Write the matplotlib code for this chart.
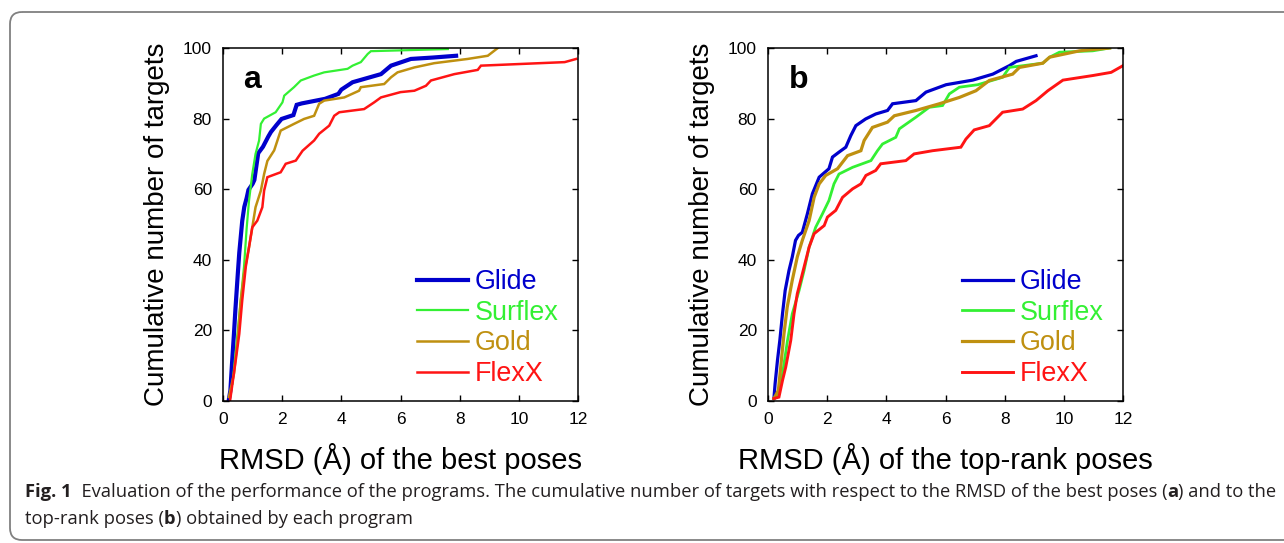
import matplotlib
matplotlib.use("Agg")
import matplotlib.pyplot as plt
from matplotlib.patches import FancyBboxPatch

plt.rcParams['font.family'] = ['Liberation Sans', 'DejaVu Sans']

programs = ["Glide", "Surflex", "Gold", "FlexX"]
colors = ["#0000cc", "#33f033", "#bf9010", "#ff1414"]

# panel a: RMSD of the best poses
glide_a_x = [0.2, 0.25, 0.3, 0.37, 0.42, 0.5, 0.55, 0.65, 0.72, 0.8, 0.86, 1.0, 1.06, 1.19, 1.35, 1.53,
             1.62, 1.81, 1.98, 2.38, 2.49, 2.66, 3.45, 3.9, 4.0, 4.38, 5.34, 5.68, 6.35, 7.1, 7.88]
glide_a_y = [0.5, 3, 10, 19, 26, 36, 42, 51, 55, 57.5, 59.8, 61.5, 62.6, 70.2, 72, 74.9,
             76.2, 78.2, 79.9, 81, 83.9, 84.3, 85.6, 87, 88.2, 90.3, 92.6, 95, 96.9, 97.3, 97.8]
surflex_a_x = [0.32, 0.4, 0.49, 0.6, 0.71, 0.8, 0.88, 0.99, 1.1, 1.22, 1.28, 1.39, 1.78, 2.01, 2.07,
               2.4, 2.63, 3.08, 3.42, 4.21, 4.38, 4.66, 4.89, 5.0, 7.6]
surflex_a_y = [4.9, 11.5, 19, 28.5, 38, 49, 56.8, 64.3, 70, 73.8, 78.5, 80, 81.8, 84.6, 86.5,
               88.9, 90.8, 92.2, 93.1, 94.1, 95, 96, 98.3, 99.1, 99.7]
gold_a_x = [0.2, 0.37, 0.49, 0.6, 0.71, 0.88, 0.99, 1.1, 1.28, 1.39, 1.5, 1.73, 1.84, 1.95, 2.4, 2.74,
            3.08, 3.25, 3.42, 4.1, 4.6, 4.66, 5.45, 5.68, 5.9, 6.47, 7.14, 8.27, 8.95, 9.29]
gold_a_y = [1.1, 7.7, 17, 28.5, 36, 43.6, 49.2, 54.9, 59.6, 64.3, 68, 71, 73.8, 76.6, 78.5, 79.9,
            80.8, 84.2, 85.1, 86, 87.9, 88.9, 89.8, 91.7, 93.1, 94.5, 95.7, 96.9, 97.8, 100]
flexx_a_x = [0.24, 0.32, 0.43, 0.55, 0.65, 0.77, 0.88, 0.99, 1.16, 1.33, 1.39, 1.5, 1.95, 2.12, 2.46,
             2.69, 3.08, 3.25, 3.59, 3.76, 3.93, 4.77, 5.11, 5.34, 6.0, 6.47, 6.86, 7.03, 7.82, 8.61,
             8.72, 11.55, 11.94]
flexx_a_y = [0.2, 4.9, 11.5, 19, 28.5, 38, 43.6, 49.2, 51.1, 54.9, 59.6, 63.4, 64.8, 67.2, 68.1,
             70.9, 73.8, 75.7, 78, 80.8, 81.8, 82.7, 84.6, 86, 87.5, 87.9, 89.3, 90.8, 92.6, 93.8,
             95, 96, 96.9]

# panel b: RMSD of the top-rank poses
glide_b_x = [0.2, 0.24, 0.32, 0.4, 0.49, 0.58, 0.71, 0.82, 0.93, 1.03, 1.16, 1.33, 1.5, 1.73, 2.06,
             2.18, 2.4, 2.63, 2.8, 2.97, 3.3, 3.64, 4.04, 4.21, 5.0, 5.34, 6.02, 6.92, 7.6, 8.16,
             8.39, 9.06]
glide_b_y = [0.7, 4.9, 11.5, 17.2, 24.7, 31.3, 37, 40.8, 45.5, 46.9, 47.8, 53, 58.7, 63.4, 65.8,
             69.1, 70.5, 71.9, 75.2, 78, 79.9, 81.3, 82.3, 84.2, 85.1, 87.5, 89.6, 90.9, 92.6, 95,
             96.2, 97.8]
surflex_b_x = [0.2, 0.37, 0.49, 0.66, 0.82, 1.05, 1.22, 1.39, 1.61, 1.84, 2.06, 2.23, 2.4, 2.86, 3.48,
               3.7, 3.87, 4.32, 4.44, 5.0, 5.45, 5.9, 6.13, 6.47, 7.09, 7.93, 8.16, 9.29, 9.52, 9.85,
               10.98, 11.55]
surflex_b_y = [0.7, 2.1, 7.7, 17.2, 24.7, 31.3, 37, 43.6, 49.2, 53, 56.8, 61.5, 64.3, 66.2, 68.1,
               70.9, 72.8, 74.7, 77.1, 80.4, 83.2, 83.7, 87, 88.9, 89.6, 91.7, 94.5, 95.7, 97.4, 98.8,
               99.2, 100]
gold_b_x = [0.2, 0.35, 0.43, 0.54, 0.65, 0.82, 0.99, 1.16, 1.39, 1.56, 1.73, 1.95, 2.35, 2.69, 3.14,
            3.25, 3.53, 4.04, 4.27, 5.0, 5.79, 6.47, 7.03, 7.48, 8.27, 8.5, 9.29, 9.52, 10.53, 11.55]
gold_b_y = [0.7, 3, 9.6, 19, 26.6, 34.2, 40.8, 45.5, 51.1, 57.7, 61.5, 63.9, 65.8, 69.5, 70.9,
            73.8, 77.5, 79, 80.8, 82.3, 84.2, 86, 87.9, 90.8, 92.6, 94.5, 95.7, 97.4, 99.2, 100]
flexx_b_x = [0.2, 0.37, 0.49, 0.6, 0.77, 0.88, 0.99, 1.16, 1.39, 1.56, 1.9, 2.01, 2.29, 2.52, 2.86,
             3.14, 3.31, 3.64, 3.81, 4.66, 4.94, 5.56, 6.52, 6.69, 6.97, 7.48, 7.93, 8.61, 9.06,
             9.46, 9.97, 10.98, 11.6, 12.0]
flexx_b_y = [0.7, 1.1, 5.8, 9.6, 17.2, 24.7, 30.4, 36, 43.6, 47.4, 49.7, 52.1, 54, 57.7, 60.1,
             61.5, 63.9, 65.3, 67.2, 68.1, 70, 70.9, 71.9, 74.2, 76.8, 78, 81.8, 82.7, 85.1,
             87.9, 90.9, 92.2, 93.1, 95]

xticks = [0, 2, 4, 6, 8, 10, 12]
yticks = [0, 20, 40, 60, 80, 100]

W, H = 1284, 543
fig = plt.figure(figsize=(W / 100, H / 100), dpi=100)

# frame and caption layer, in pixel units
bg = fig.add_axes([0, 0, 1, 1])
bg.set_xlim(0, W)
bg.set_ylim(H, 0)
bg.axis("off")
bg.add_patch(FancyBboxPatch((10, 12), 1320, 528, boxstyle="round,pad=0,rounding_size=12",
                            fc="none", ec="#808080", lw=1.3))

cap = dict(family=["Open Sans", "DejaVu Sans"], fontsize=13.25, color="#231f20")


def chain(pieces, x, y):
    prev = None
    for s, bold in pieces:
        w = "bold" if bold else "normal"
        if prev is None:
            prev = bg.text(x, y, s, ha="left", va="bottom", fontweight=w, **cap)
        else:
            prev = bg.annotate(s, xy=(1, 0), xycoords=prev, ha="left", va="bottom",
                               fontweight=w, **cap)


chain([("Fig. 1", True),
       ("  Evaluation of the performance of the programs. The cumulative number of targets "
        "with respect to the RMSD of the best poses (", False),
       ("a", True), (") and to the", False)], 25, 501)
chain([("top-rank poses (", False), ("b", True), (") obtained by each program", False)], 25, 528)


def panel(left, letter, xlabel, data, widths):
    ax = fig.add_axes([left / W, (H - 401) / H, 355 / W, 353 / H])
    for (xs, ys), name, c, lw in zip(data, programs, colors, widths):
        ax.plot(xs, ys, color=c, lw=lw, label=name, solid_joinstyle="miter")
    ax.set_xlim(0, 12)
    ax.set_ylim(0, 100)
    ax.set_xticks(xticks)
    ax.set_yticks(yticks)
    ax.tick_params(direction="in", top=True, right=True, length=4, width=1,
                   labelsize=12.5, pad=8)
    for sp in ax.spines.values():
        sp.set_linewidth(1.1)
    ax.set_xlabel(xlabel, fontsize=21)
    ax.set_ylabel("Cumulative number of targets", fontsize=20)
    ax.xaxis.set_label_coords(0.5, -0.118)
    ax.yaxis.set_label_coords(-0.15, 0.5)
    ax.text(0.058, 0.887, letter, transform=ax.transAxes, fontsize=23, fontweight="bold",
            ha="left", va="baseline")
    ax.legend(loc="upper left", bbox_to_anchor=(0.546, 0.373), frameon=False, fontsize=19.4,
              handlelength=1.9, handletextpad=0.25, labelspacing=0.17, borderpad=0,
              borderaxespad=0, labelcolor="linecolor")
    return ax


panel(223, "a", "RMSD (Å) of the best poses",
      [(glide_a_x, glide_a_y), (surflex_a_x, surflex_a_y), (gold_a_x, gold_a_y),
       (flexx_a_x, flexx_a_y)], [3.0, 1.6, 1.8, 1.8])
panel(768, "b", "RMSD (Å) of the top-rank poses",
      [(glide_b_x, glide_b_y), (surflex_b_x, surflex_b_y), (gold_b_x, gold_b_y),
       (flexx_b_x, flexx_b_y)], [2.3, 2.0, 2.3, 2.1])

fig.savefig("out.png", dpi=100, facecolor="white")
